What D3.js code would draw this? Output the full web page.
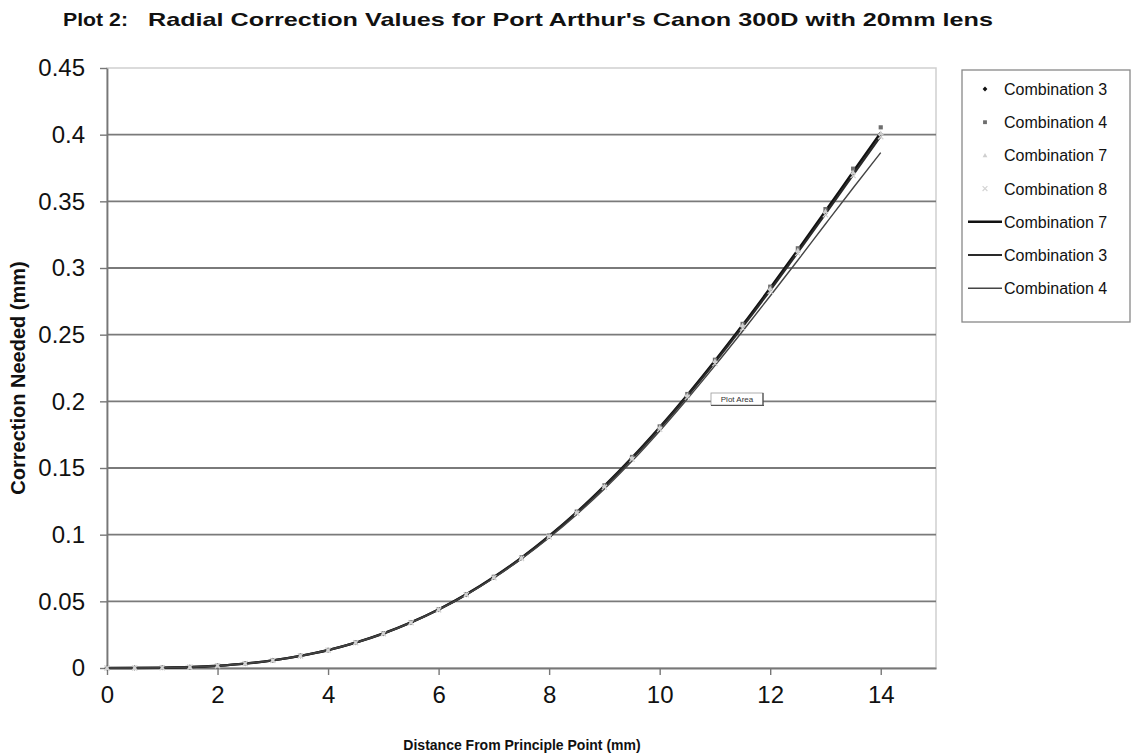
<!DOCTYPE html>
<html>
<head>
<meta charset="utf-8">
<script src="https://cdn.jsdelivr.net/npm/d3@7"></script>
<style>
  html, body { margin: 0; padding: 0; background: #fff; }
  svg { display: block; font-family: "Liberation Sans", Arial, sans-serif; }
</style>
</head>
<body>
<svg id="chart" width="1143" height="756"></svg>
<script>
// distance from principle point (mm)
const distance = [0, 0.5, 1, 1.5, 2, 2.5, 3, 3.5, 4, 4.5, 5, 5.5, 6, 6.5, 7, 7.5, 8, 8.5, 9, 9.5, 10, 10.5, 11, 11.5, 12, 12.5, 13, 13.5, 14];

// marker series (correction needed, mm)
const comb3Pts = [0, 0.00003, 0.0002, 0.0007, 0.0017, 0.0033, 0.0057, 0.0091, 0.0134, 0.0190, 0.0258, 0.0341, 0.0438, 0.0551, 0.0680, 0.0825, 0.0987, 0.1166, 0.1362, 0.1573, 0.1800, 0.2041, 0.2296, 0.2563, 0.2839, 0.3124, 0.3414, 0.3707, 0.4000];
const comb4Pts = [0, 0.00003, 0.0002, 0.0007, 0.0017, 0.0033, 0.0058, 0.0092, 0.0135, 0.0191, 0.0260, 0.0343, 0.0440, 0.0554, 0.0684, 0.0830, 0.0993, 0.1173, 0.1370, 0.1583, 0.1812, 0.2055, 0.2312, 0.2581, 0.2860, 0.3148, 0.3442, 0.3745, 0.4055];
const comb7Pts = [0, 0.00003, 0.0002, 0.0007, 0.0017, 0.0033, 0.0057, 0.0091, 0.0134, 0.0190, 0.0259, 0.0342, 0.0439, 0.0552, 0.0682, 0.0827, 0.0990, 0.1169, 0.1365, 0.1577, 0.1805, 0.2047, 0.2303, 0.2571, 0.2848, 0.3134, 0.3426, 0.3720, 0.4012];
const comb8Pts = [0, 0.00003, 0.0002, 0.0007, 0.0017, 0.0033, 0.0057, 0.0090, 0.0133, 0.0189, 0.0257, 0.0339, 0.0436, 0.0549, 0.0677, 0.0821, 0.0982, 0.1160, 0.1355, 0.1565, 0.1790, 0.2030, 0.2284, 0.2550, 0.2826, 0.3110, 0.3400, 0.3693, 0.3985];

// fitted line series
const comb7Line = [0, 0.00003, 0.0002, 0.0007, 0.0017, 0.0033, 0.0057, 0.0091, 0.0134, 0.0190, 0.0259, 0.0342, 0.0439, 0.0552, 0.0682, 0.0827, 0.0990, 0.1169, 0.1366, 0.1578, 0.1806, 0.2048, 0.2304, 0.2572, 0.2850, 0.3136, 0.3428, 0.3722, 0.4015];
const comb3Line = [0, 0.00003, 0.0002, 0.0007, 0.0017, 0.0033, 0.0057, 0.0091, 0.0134, 0.0190, 0.0258, 0.0341, 0.0438, 0.0551, 0.0680, 0.0825, 0.0986, 0.1165, 0.1360, 0.1571, 0.1797, 0.2038, 0.2292, 0.2558, 0.2833, 0.3117, 0.3406, 0.3698, 0.3990];
const comb4Line = [0, 0.00003, 0.0002, 0.0007, 0.0017, 0.0033, 0.0057, 0.0091, 0.0134, 0.0190, 0.0258, 0.0340, 0.0436, 0.0548, 0.0675, 0.0818, 0.0977, 0.1152, 0.1343, 0.1552, 0.1778, 0.2018, 0.2268, 0.2526, 0.2790, 0.3058, 0.3330, 0.3600, 0.3865];

const xTicks = [0, 2, 4, 6, 8, 10, 12, 14];
const yTicks = [0, 0.05, 0.1, 0.15, 0.2, 0.25, 0.3, 0.35, 0.4, 0.45];

const markerSeries = [
  { name: "Combination 3", values: comb3Pts, shape: "diamond", color: "#111" },
  { name: "Combination 4", values: comb4Pts, shape: "square", color: "#6e6e6e" },
  { name: "Combination 7", values: comb7Pts, shape: "triangle", color: "#cfcfcf" },
  { name: "Combination 8", values: comb8Pts, shape: "cross", color: "#d4d4d4" }
];
const lineSeries = [
  { name: "Combination 7", values: comb7Line, color: "#111", width: 2.4 },
  { name: "Combination 3", values: comb3Line, color: "#2a2a2a", width: 2.2 },
  { name: "Combination 4", values: comb4Line, color: "#444", width: 1.4 }
];

const svg = d3.select("#chart");
const m = { top: 68, left: 107 };
const pW = 936 - m.left, pH = 668 - m.top;

const x = d3.scaleLinear().domain([0, 15]).range([m.left, m.left + pW]);
const y = d3.scaleLinear().domain([0, 0.45]).range([m.top + pH, m.top]);

// Title
svg.append("text").attr("x", 63).attr("y", 26)
  .attr("textLength", 65).attr("lengthAdjust", "spacingAndGlyphs")
  .style("font-size", "18.5px").style("font-weight", "bold").style("fill", "#111")
  .text("Plot 2:");
svg.append("text").attr("x", 148).attr("y", 26)
  .attr("textLength", 845).attr("lengthAdjust", "spacingAndGlyphs")
  .style("font-size", "18.5px").style("font-weight", "bold").style("fill", "#111")
  .text("Radial Correction Values for Port Arthur's Canon 300D with 20mm lens");

// plot border (light, top & right)
svg.append("rect")
  .attr("x", x(0)).attr("y", y(0.45)).attr("width", pW).attr("height", pH)
  .attr("fill", "none").attr("stroke", "#cfcfcf").attr("stroke-width", 1.5);

// Gridlines
svg.append("g").selectAll("line").data(yTicks.filter(d => d > 0 && d < 0.45)).join("line")
  .attr("x1", x(0)).attr("x2", x(15))
  .attr("y1", d => y(d)).attr("y2", d => y(d))
  .attr("stroke", "#7a7a7a").attr("stroke-width", 1.8);

// Axes
svg.append("g")
  .attr("transform", `translate(0,${y(0)})`)
  .call(d3.axisBottom(x).tickValues(xTicks).tickSize(7).tickSizeOuter(0).tickFormat(d3.format("d")))
  .call(ax => {
    ax.select(".domain").attr("stroke", "#777").attr("stroke-width", 1.8);
    ax.selectAll(".tick line").attr("stroke", "#777").attr("stroke-width", 1.4);
    ax.selectAll(".tick text").attr("fill", "#111").style("font-size", "24px")
      .style("font-family", "'Liberation Sans', Arial, sans-serif").attr("dy", "1.05em");
  });

svg.append("g")
  .attr("transform", `translate(${x(0)},0)`)
  .call(d3.axisLeft(y).tickValues(yTicks).tickSize(7).tickSizeOuter(0).tickFormat(d => d3.format("")(+d.toFixed(2))))
  .call(ax => {
    ax.select(".domain").attr("stroke", "#777").attr("stroke-width", 1.8);
    ax.selectAll(".tick line").attr("stroke", "#777").attr("stroke-width", 1.4);
    ax.selectAll(".tick text").attr("fill", "#111").style("font-size", "24px")
      .style("font-family", "'Liberation Sans', Arial, sans-serif").attr("dx", "-12px");
  });

// Axis titles
svg.append("text").attr("x", 522).attr("y", 750).attr("text-anchor", "middle")
  .style("font-size", "14px").style("font-weight", "bold").style("fill", "#111")
  .text("Distance From Principle Point (mm)");
svg.append("text").attr("transform", "translate(25,378) rotate(-90)").attr("text-anchor", "middle")
  .style("font-size", "20px").style("font-weight", "bold").style("fill", "#111")
  .text("Correction Needed (mm)");

// Lines
const lineGen = vals => d3.line().curve(d3.curveMonotoneX)
  .x((d, i) => x(distance[i])).y(d => y(d))(vals);

svg.append("g").selectAll("path").data(lineSeries).join("path")
  .attr("d", d => lineGen(d.values))
  .attr("fill", "none").attr("stroke", d => d.color).attr("stroke-width", d => d.width);

// Markers
function drawMarker(sel, shape, color, s) {
  if (shape === "diamond") {
    sel.append("path").attr("d", `M0,${-s}L${s},0L0,${s}L${-s},0Z`).attr("fill", color);
  } else if (shape === "square") {
    sel.append("rect").attr("x", -s * 0.8).attr("y", -s * 0.8).attr("width", s * 1.6).attr("height", s * 1.6).attr("fill", color);
  } else if (shape === "triangle") {
    sel.append("path").attr("d", `M0,${-s}L${s},${s * 0.8}L${-s},${s * 0.8}Z`).attr("fill", color);
  } else {
    sel.append("path").attr("d", `M${-s},${-s}L${s},${s}M${-s},${s}L${s},${-s}`).attr("stroke", color).attr("stroke-width", 1.2);
  }
}

markerSeries.forEach(s => {
  const g = svg.append("g");
  s.values.forEach((v, i) => {
    const mk = g.append("g").attr("transform", `translate(${x(distance[i])},${y(v)})`);
    drawMarker(mk, s.shape, s.color, 2.6);
  });
});

// "Plot Area" hover label
const pa = svg.append("g").attr("transform", "translate(711,393)");
pa.append("rect").attr("width", 52).attr("height", 12).attr("fill", "#fff")
  .attr("stroke", "#999").attr("stroke-width", 0.8);
pa.append("line").attr("x1", 52).attr("x2", 52).attr("y1", 0).attr("y2", 13).attr("stroke", "#333");
pa.append("line").attr("x1", 0).attr("x2", 53).attr("y1", 12.5).attr("y2", 12.5).attr("stroke", "#555");
pa.append("text").attr("x", 26).attr("y", 9).attr("text-anchor", "middle")
  .style("font-size", "8px").style("fill", "#333").text("Plot Area");

// Legend
const lg = svg.append("g").attr("transform", "translate(962,70)");
lg.append("rect").attr("width", 168).attr("height", 252).attr("fill", "#fff")
  .attr("stroke", "#888").attr("stroke-width", 1.3);
const legendItems = markerSeries.map(s => ({ ...s, kind: "marker" }))
  .concat(lineSeries.map(s => ({ ...s, kind: "line" })));
legendItems.forEach((d, i) => {
  const row = lg.append("g").attr("transform", `translate(0,${19 + i * 33.2})`);
  if (d.kind === "marker") {
    const mk = row.append("g").attr("transform", "translate(23,0)");
    drawMarker(mk, d.shape, d.color, 2.4);
  } else {
    row.append("line").attr("x1", 6).attr("x2", 40).attr("y1", 0).attr("y2", 0)
      .attr("stroke", d.color).attr("stroke-width", d.width);
  }
  row.append("text").attr("x", 42).attr("y", 6)
    .style("font-size", "16px").style("fill", "#111").text(d.name);
});
</script>
</body>
</html>
